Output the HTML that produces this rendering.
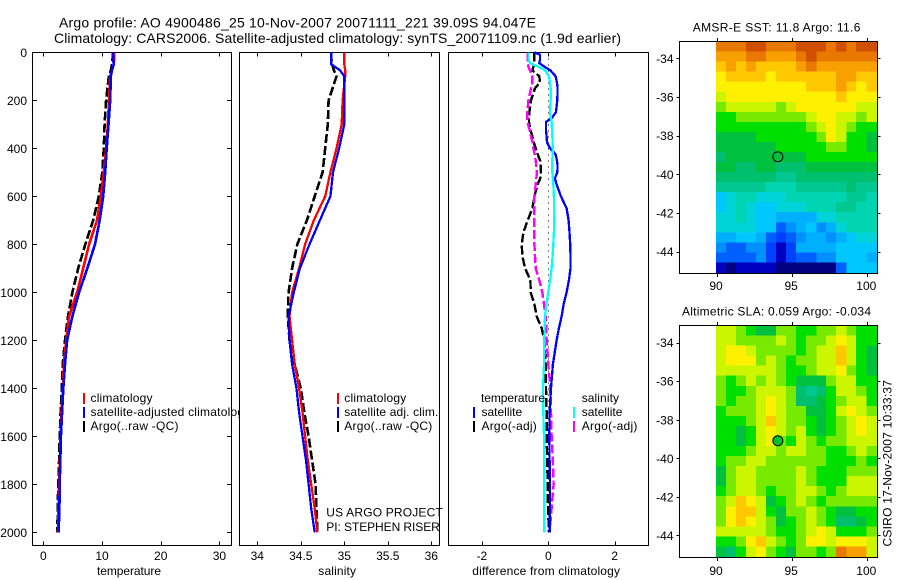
<!DOCTYPE html>
<html lang="en">
<head>
<meta charset="utf-8">
<title>Argo profile 4900486_25</title>
<style>
html,body{margin:0;padding:0;background:#fff;width:900px;height:580px;overflow:hidden}
svg{display:block}
text{font-family:"Liberation Sans",sans-serif;font-size:12px;fill:#000}
.title{font-size:14px}
</style>
</head>
<body>
<svg id="figure" width="900" height="580" viewBox="0 0 900 580" xmlns="http://www.w3.org/2000/svg">
  <rect x="0" y="0" width="900" height="580" fill="#fff"/>
  <text class="title" x="59" y="27.5" textLength="477" lengthAdjust="spacing">Argo profile: AO 4900486_25 10-Nov-2007 20071111_221 39.09S 94.047E</text>
  <text class="title" x="54" y="43" textLength="567" lengthAdjust="spacing">Climatology: CARS2006. Satellite-adjusted climatology: synTS_20071109.nc (1.9d earlier)</text>

  <g id="panel-temp">
    <g id="temp-axes"></g>
    <g id="temp-marks"></g>
    <g>
      <rect x="83" y="393" width="2" height="11" fill="#ff0000"/>
      <rect x="83" y="407" width="2" height="11" fill="#0000ff"/>
      <rect x="83" y="421" width="2" height="11" fill="#000"/>
      <text x="90.5" y="402" textLength="62">climatology</text>
      <text x="90.5" y="416" style="letter-spacing:.22px">satellite-adjusted climatology</text>
      <text x="90.5" y="430" textLength="88">Argo(..raw -QC)</text>
    </g>
    <text x="97" y="575" textLength="64">temperature</text>
  </g>

  <g id="panel-sal">
    <rect x="239" y="52" width="201" height="494" fill="#fff"/>
    <g id="sal-axes"></g>
    <g id="sal-marks"></g>
    <g>
      <rect x="337" y="393" width="2" height="11" fill="#ff0000"/>
      <rect x="337" y="407" width="2" height="11" fill="#0000ff"/>
      <rect x="337" y="421" width="2" height="11" fill="#000"/>
      <text x="344.3" y="402" textLength="62">climatology</text>
      <text x="344.3" y="416" textLength="94">satellite adj. clim.</text>
      <text x="344.3" y="430" textLength="88">Argo(..raw -QC)</text>
    </g>
    <text x="326.3" y="516.5" textLength="116.5">US ARGO PROJECT</text>
    <text x="326.3" y="531" textLength="113.5">PI: STEPHEN RISER</text>
    <text x="318.3" y="575" textLength="37.7">salinity</text>
  </g>

  <g id="panel-diff">
    <g id="diff-axes"></g>
    <g id="diff-marks"></g>
    <g>
      <rect x="473" y="407" width="2" height="11" fill="#0000ff"/>
      <rect x="473" y="421" width="2" height="11" fill="#000"/>
      <rect x="573" y="407" width="2" height="11" fill="#00ffff"/>
      <rect x="573" y="421" width="2" height="11" fill="#ff00ff"/>
      <text x="481" y="402" textLength="64">temperature</text>
      <text x="481.5" y="416" textLength="40.7">satellite</text>
      <text x="481.5" y="430" textLength="55.3">Argo(-adj)</text>
      <text x="581.7" y="402" textLength="37.3">salinity</text>
      <text x="581.7" y="416" textLength="40.7">satellite</text>
      <text x="581.7" y="430" textLength="55.7">Argo(-adj)</text>
    </g>
    <text x="472.3" y="575" textLength="147.7">difference from climatology</text>
  </g>

  <g id="panel-sst">
    <text x="692.7" y="31.5" textLength="167.7">AMSR-E SST: 11.8 Argo: 11.6</text>
  </g>
  <g id="panel-sla">
    <text x="682" y="315.5" textLength="189">Altimetric SLA: 0.059 Argo: -0.034</text>
  </g>
  <text transform="translate(891.5,546.5) rotate(-90)" x="0" y="0" textLength="166.5">CSIRO 17-Nov-2007 10:33:37</text>
</svg>

<script>
// ---------- Profile data ----------
const depthLevels = [0,25,50,75,100,200,300,400,500,600,700,800,900,1000,1100,1200,1300,1400,1500,1600,1700,1800,1900,2000];

const tempClimatology = [12.1,12.1,12.0,11.7,11.4,11.2,11.0,10.7,10.3,9.8,9.15,7.8,6.8,5.75,4.4,3.9,3.5,3.35,3.1,2.95,2.85,2.7,2.6,2.5];
const tempSatellite   = [11.9,11.9,12.0,11.7,11.5,11.4,11.1,10.8,10.55,10.2,9.6,8.8,7.5,6.1,4.95,4.05,3.7,3.4,3.2,3.0,2.9,2.8,2.75,2.6];
const tempArgo        = [11.8,11.8,11.7,11.5,11.15,10.7,10.45,10.3,10.05,9.45,8.5,7.15,5.95,4.95,4.2,3.7,3.3,3.15,2.95,2.8,2.7,2.55,2.45,2.4];

const salClimatology = [35.0,35.0,35.0,35.01,35.01,34.98,34.97,34.91,34.84,34.78,34.65,34.55,34.48,34.40,34.37,34.40,34.43,34.48,34.52,34.55,34.58,34.62,34.66,34.69];
const salSatellite   = [34.85,34.85,34.85,34.95,35.0,35.0,35.0,34.94,34.87,34.84,34.72,34.6,34.49,34.42,34.36,34.37,34.4,34.45,34.48,34.52,34.56,34.59,34.62,34.66];
const salArgo        = [34.85,34.85,34.86,34.88,34.91,34.82,34.81,34.78,34.75,34.66,34.57,34.46,34.4,34.36,34.35,34.37,34.43,34.5,34.54,34.59,34.63,34.67,34.68,34.69];

const diffDepths = [0,10,30,45,60,75,100,125,150,200,250,275,290,325,350,375,400,425,450,475,500,525,550,600,650,700,750,800,850,900,950,1000,1050,1100,1150,1200,1300,1400,1500,1600,1700,1800,1900,2000];
const diffTempSatellite = [-0.42,-0.25,-0.25,-0.27,-0.12,0.06,0.22,0.26,0.28,0.27,0.23,0.1,-0.07,-0.07,-0.05,-0.04,0.05,0.22,0.26,0.28,0.27,0.2,0.25,0.38,0.55,0.61,0.64,0.66,0.67,0.67,0.62,0.55,0.46,0.4,0.32,0.25,0.14,0.08,0.04,0.03,0.04,0.05,0.05,0.04];
const diffTempArgo      = [-0.42,-0.42,-0.42,-0.42,-0.45,-0.48,-0.27,-0.25,-0.4,-0.52,-0.57,-0.58,-0.58,-0.54,-0.48,-0.44,-0.38,-0.32,-0.25,-0.23,-0.22,-0.24,-0.32,-0.42,-0.48,-0.62,-0.75,-0.8,-0.78,-0.7,-0.54,-0.53,-0.42,-0.35,-0.2,-0.12,-0.08,-0.07,-0.05,-0.05,-0.03,-0.02,-0.01,0.02];
const diffSalSatellite  = [-0.6,-0.6,-0.6,-0.55,-0.3,-0.1,0.02,0.05,0.07,0.07,0.05,0.08,0.1,0.11,0.12,0.13,0.13,0.13,0.12,0.12,0.12,0.14,0.15,0.17,0.17,0.18,0.17,0.15,0.13,0.1,0.05,0,-0.06,-0.1,-0.11,-0.12,-0.13,-0.16,-0.15,-0.13,-0.12,-0.12,-0.12,-0.12];
const diffSalArgo       = [-0.62,-0.62,-0.62,-0.62,-0.6,-0.55,-0.48,-0.48,-0.52,-0.6,-0.63,-0.63,-0.63,-0.56,-0.52,-0.48,-0.45,-0.41,-0.38,-0.36,-0.34,-0.36,-0.38,-0.42,-0.42,-0.42,-0.42,-0.42,-0.4,-0.38,-0.27,-0.18,-0.13,-0.08,-0.06,-0.05,0,0.06,0.08,0.1,0.14,0.16,0.1,0.04];

// ---------- Tick labels ----------
const depthTicks = [0,200,400,600,800,1000,1200,1400,1600,1800,2000];
const tempTicks  = [0,10,20,30];
const salTicks   = [34,34.5,35,35.5,36];
const diffTicks  = [-2,0,2];
const lonTicks   = [90,95,100];
const latTicks   = [-34,-36,-38,-40,-42,-44];

// ---------- Map data: colour level 0-20 on a coarse 16x23 grid, north to south ----------
const gridLons = [90,90.67,91.33,92,92.67,93.33,94,94.67,95.33,96,96.67,97.33,98,98.67,99.33,100];
const profileLon = 94.047;
const profileLat = -39.09;
const sstLevels = [
[18,18,18,19,19,18,18,18,19,19,19,18,19,18,19,19],
[17,17,17,18,18,17,17,17,18,19,18,18,18,18,18,18],
[16,17,16,17,16,16,16,16,17,18,17,17,17,17,17,17],
[15,16,16,16,16,15,16,16,16,16,16,16,17,17,16,16],
[15,15,15,15,15,15,15,15,15,16,16,16,17,16,15,16],
[14,15,15,15,15,15,15,15,15,15,15,15,16,15,15,15],
[13,14,14,14,14,14,13,14,15,15,15,15,15,15,14,14],
[12,12,13,13,13,13,13,13,13,14,15,15,14,14,13,14],
[12,12,12,12,12,12,12,12,12,13,14,15,14,13,12,12],
[11,11,11,11,12,12,12,12,12,12,13,15,14,12,12,11],
[11,11,11,11,11,11,12,12,12,12,12,13,13,12,12,11],
[10,11,11,11,11,11,11,11,11,12,12,12,12,12,12,12],
[11,11,10,10,11,11,10,10,10,11,11,11,11,11,11,11],
[10,10,10,10,10,10,9,9,10,10,10,10,10,10,10,10],
[9,9,9,9,9,8,8,8,9,9,9,9,9,10,9,9],
[6,7,8,8,7,7,7,8,8,8,8,8,8,9,9,8],
[6,7,8,7,6,6,7,7,7,8,8,8,9,9,8,8],
[7,7,8,7,6,6,5,5,5,5,7,7,8,8,8,8],
[7,7,7,7,6,6,3,4,5,6,4,5,7,8,8,8],
[5,5,6,6,5,3,2,3,4,5,5,4,5,6,7,7],
[4,3,3,4,4,2,1,2,5,5,5,5,6,6,6,6],
[3,3,3,3,4,2,1,2,3,3,4,4,6,6,6,5],
[1,0,1,1,1,1,0,0,0,0,0,0,3,6,6,6]
];
const slaLevels = [
[14,14,13,12,11,11,13,13,12,12,13,13,14,13,12,12],
[14,14,13,13,13,13,14,13,12,13,13,14,15,14,12,12],
[14,15,15,14,13,13,13,13,12,13,14,14,16,14,12,11],
[14,15,15,15,13,14,13,12,13,13,14,14,16,14,12,11],
[14,14,14,14,14,14,13,12,12,13,14,14,15,13,12,11],
[13,12,13,14,13,14,13,12,11,11,11,13,14,14,12,12],
[13,12,12,13,14,14,14,13,10,9,10,12,14,14,13,12],
[13,12,13,13,14,15,14,13,10,10,11,12,13,14,14,12],
[12,13,13,13,14,15,14,13,13,11,11,12,14,15,14,13],
[12,12,12,13,14,16,14,13,13,12,11,12,13,14,15,14],
[12,12,11,12,14,15,14,13,14,12,11,12,13,14,15,14],
[12,12,11,12,14,15,13,12,14,13,12,13,13,14,14,14],
[12,12,12,13,14,14,13,14,14,13,13,12,12,13,14,13],
[12,13,13,14,14,13,13,13,13,13,13,12,12,12,13,12],
[11,13,14,14,13,13,13,13,14,13,12,12,12,13,13,13],
[11,13,14,14,13,13,13,13,14,13,12,12,12,14,14,14],
[12,13,14,14,13,12,13,13,14,14,13,12,13,14,14,14],
[13,14,16,15,14,11,12,13,14,13,12,13,13,13,13,13],
[13,15,16,16,14,12,11,13,13,14,13,12,11,11,12,12],
[13,15,16,15,14,13,11,12,13,14,13,12,10,10,11,12],
[14,14,14,14,14,13,12,12,13,14,15,14,12,12,12,13],
[12,12,13,15,16,14,13,12,13,15,15,14,15,15,15,14],
[11,10,12,14,15,13,12,11,13,13,12,13,18,17,17,14]
];
const levelColors = ['#000080','#0000c0','#0040ff','#0060ff','#0090ff','#00b0ff','#00c8ff','#00d4d8','#00d4b0','#00c890','#00c070','#00c040','#00e000','#78ea00','#ccf600','#fff000','#ffc800','#f8a000','#e87800','#d05000','#b43000'];

// ---------- Axis functions ----------
const SVGNS = 'http://www.w3.org/2000/svg';
const yDepth = d => 52.3 + 0.24 * d;
const xTemp = v => 43.3 + 5.87 * v;
const xSal  = v => 257.3 + 87 * (v - 34);
const xDiff = v => 548.3 + 33.2 * v;
const xLon  = v => 717 + 15.03 * (v - 90);
const yLatSst = v => 58.3 + 19.34 * (-34 - v);
const ySlaLat = v => 342.7 + 19.27 * (-34 - v);

function mk(parent, tag, attrs, name) {
  const el = document.createElementNS(SVGNS, tag);
  for (const k in attrs) el.setAttribute(k, attrs[k]);
  
  
  parent.appendChild(el);
  return el;
}
function tickLabel(parent, x, y, str, anchor, name) {
  const t = mk(parent, 'text', {x: x, y: y, 'text-anchor': anchor}, name);
  t.textContent = str;
  return t;
}
function line(parent, x1, y1, x2, y2, name) {
  return mk(parent, 'line', {x1: x1, y1: y1, x2: x2, y2: y2, stroke: '#000', 'stroke-width': 1, 'shape-rendering': 'crispEdges'}, name);
}
function curve(parent, xs, ys, xFn, color, dash, name, width) {
  const pts = xs.map((v, i) => xFn(v).toFixed(1) + ',' + yDepth(ys[i]).toFixed(1)).join(' ');
  const attrs = {points: pts, fill: 'none', stroke: color, 'stroke-width': width || 2.6, 'shape-rendering': 'crispEdges'};
  if (dash) attrs['stroke-dasharray'] = dash;
  return mk(parent, 'polyline', attrs, name);
}
function profileAxes(id, left, right, xTickVals, xFn, fmt, withDepth) {
  const g = document.getElementById(id);
  const top = 52.5, bottom = 545.5;
  mk(g, 'rect', {x: left + .5, y: top, width: right - left, height: bottom - top, fill: 'none', stroke: '#000', 'stroke-width': 1, 'shape-rendering': 'crispEdges'}, 'axes-box');
  xTickVals.forEach(v => {
    const x = Math.round(xFn(v)) + .5;
    line(g, x, top, x, top + 4, 'x-tick-top');
    line(g, x, bottom, x, bottom - 4, 'x-tick-bottom');
    tickLabel(g, xFn(v), 560, fmt(v), 'middle', 'x-tick-label');
  });
  if (withDepth) {
    depthTicks.forEach(d => {
      const y = Math.round(yDepth(d)) + .5;
      line(g, left + .5, y, left + 5, y, 'y-tick-left');
      line(g, right + .5, y, right - 4, y, 'y-tick-right');
      tickLabel(g, left - 5, yDepth(d) + 4.5, String(d), 'end', 'y-tick-label');
    });
  }
}
function mapPanel(id, top, bottom, yFn, levels, circleFill, labelY) {
  const g = document.getElementById(id);
  const left = 679.5, right = 877.5, imgLeft = 716, imgRight = 877;
  const nRows = levels.length;
  const cellW = (imgRight - imgLeft) / gridLons.length;
  const cellH = (bottom - top - 1) / nRows;
  const heat = mk(g, 'g', {}, 'heatmap');
  levels.forEach((row, r) => {
    row.forEach((lev, c) => {
      const x = xLon(gridLons[c]) - 1;
      const y = top + .5 + r * cellH;
      mk(heat, 'rect', {x: x.toFixed(2), y: y.toFixed(2), width: (cellW + .5).toFixed(2), height: (cellH + .5).toFixed(2), fill: levelColors[lev], 'shape-rendering': 'crispEdges'}, 'heatmap-cell');
    });
  });
  mk(g, 'rect', {x: left, y: top + .5, width: right - left, height: bottom - top, fill: 'none', stroke: '#000', 'stroke-width': 1, 'shape-rendering': 'crispEdges'}, 'map-box');
  lonTicks.forEach(v => {
    const x = Math.round(xLon(v)) + .5;
    line(g, x, top + .5, x, top - 3, 'lon-tick-top');
    line(g, x, bottom + .5, x, bottom + 4, 'lon-tick-bottom');
    tickLabel(g, xLon(v) - 1, labelY, String(v), 'middle', 'lon-tick-label');
  });
  latTicks.forEach(v => {
    const y = Math.round(yFn(v)) + .5;
    line(g, left, y, left - 3, y, 'lat-tick-left');
    line(g, right, y, right + 3, y, 'lat-tick-right');
    tickLabel(g, 673.5, yFn(v) + 4.5, String(v), 'end', 'lat-tick-label');
  });
  mk(g, 'circle', {cx: xLon(profileLon), cy: yFn(profileLat), r: 5, fill: circleFill, stroke: '#000', 'stroke-width': 1}, 'argo-profile-marker');
}

// ---------- Draw ----------
profileAxes('temp-axes', 32, 231, tempTicks, xTemp, String, true);
profileAxes('sal-axes', 239, 439, salTicks, xSal, String, false);
profileAxes('diff-axes', 448, 648, diffTicks, xDiff, String, false);

const tm = document.getElementById('temp-marks');
curve(tm, tempArgo, depthLevels, xTemp, '#000', '9 3', 'temp-argo-line', 2.6);
curve(tm, tempClimatology, depthLevels, xTemp, '#ff0000', null, 'temp-climatology-line');
curve(tm, tempSatellite, depthLevels, xTemp, '#0000ff', null, 'temp-satellite-line');

const sm = document.getElementById('sal-marks');
curve(sm, salArgo, depthLevels, xSal, '#000', '9 3', 'sal-argo-line', 2.6);
curve(sm, salClimatology, depthLevels, xSal, '#ff0000', null, 'sal-climatology-line', 2.3);
curve(sm, salSatellite, depthLevels, xSal, '#0000ff', null, 'sal-satellite-line', 2.3);

const dm = document.getElementById('diff-marks');
mk(dm, 'line', {x1: xDiff(0), y1: yDepth(0), x2: xDiff(0), y2: yDepth(2000), stroke: '#000', 'stroke-width': 1, 'stroke-dasharray': '1 5', 'shape-rendering': 'crispEdges'}, 'zero-reference-line');
curve(dm, diffTempArgo, diffDepths, xDiff, '#000', '9 3', 'diff-temp-argo-line', 2.4);
curve(dm, diffSalArgo, diffDepths, xDiff, '#ff00ff', '9 3', 'diff-sal-argo-line', 2.4);
curve(dm, diffTempSatellite, diffDepths, xDiff, '#0000ff', null, 'diff-temp-satellite-line', 2.3);
curve(dm, diffSalSatellite, diffDepths, xDiff, '#00ffff', null, 'diff-sal-satellite-line', 2.3);

mapPanel('panel-sst', 41, 273, yLatSst, sstLevels, 'none', 290);
mapPanel('panel-sla', 325, 557, ySlaLat, slaLevels, '#00c030', 575);
</script>
</body>
</html>
